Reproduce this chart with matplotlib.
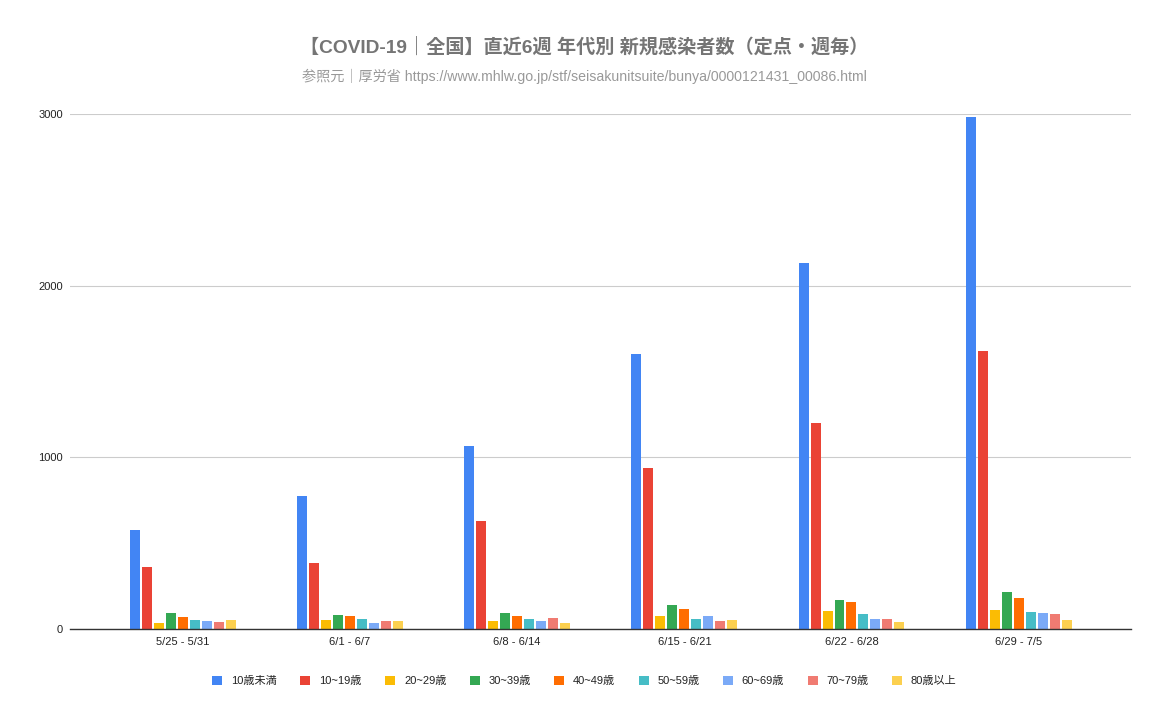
import numpy as np
import matplotlib
matplotlib.use("Agg")
import matplotlib.pyplot as plt

plt.rcParams['font.family'] = ['Liberation Sans', 'Noto Sans CJK JP', 'DejaVu Sans']

# 週ごとのカテゴリ
weeks = ['5/25 - 5/31', '6/1 - 6/7', '6/8 - 6/14', '6/15 - 6/21', '6/22 - 6/28', '6/29 - 7/5']
age_groups = ['10歳未満', '10~19歳', '20~29歳', '30~39歳', '40~49歳',
              '50~59歳', '60~69歳', '70~79歳', '80歳以上']

# 年代別の新規感染者数 (週ごと)
under10 = [578, 775, 1067, 1603, 2134, 2985]
age10s = [361, 385, 630, 939, 1201, 1621]
age20s = [35, 52, 47, 76, 105, 111]
age30s = [93, 82, 93, 140, 169, 216]
age40s = [70, 76, 76, 117, 157, 181]
age50s = [52, 58, 58, 58, 87, 99]
age60s = [47, 35, 47, 76, 58, 93]
age70s = [41, 47, 64, 47, 58, 87]
over80 = [52, 47, 35, 52, 41, 52]

series = [under10, age10s, age20s, age30s, age40s, age50s, age60s, age70s, over80]
colors = ['#4285F4', '#EA4335', '#FBBC04', '#34A853', '#FF6D01',
          '#46BDC6', '#7BAAF7', '#F07B72', '#FCD04F']

fig = plt.figure(figsize=(11.69, 7.24), dpi=100)
ax = fig.add_axes([0.0599, 0.1312, 0.908, 0.7113])

x = np.arange(len(weeks))
pitch = 0.0717
width = 0.0597
n = len(series)
for i, (vals, col, lab) in enumerate(zip(series, colors, age_groups)):
    offset = (i - (n - 1) / 2) * pitch
    ax.bar(x + offset, vals, width=width, color=col, label=lab, zorder=3)

ax.set_xlim(-0.675, 5.675)
ax.set_ylim(0, 3000)
ax.set_yticks([0, 1000, 2000, 3000])
ax.set_xticks(x)
ax.set_xticklabels(weeks)
ax.tick_params(axis='both', length=0, labelsize=8, colors='#222222')
ax.tick_params(axis='x', pad=6)
ax.tick_params(axis='y', pad=5)
ax.grid(axis='y', color='#cccccc', linewidth=0.8, zorder=0)
for s in ['top', 'right', 'left']:
    ax.spines[s].set_visible(False)
ax.spines['bottom'].set_color('#333333')
ax.spines['bottom'].set_linewidth(1.0)
ax.spines['bottom'].set_zorder(4)

fig.text(0.5, 1 - 47 / 724, '【COVID-19｜全国】直近6週 年代別 新規感染者数（定点・週毎）',
         ha='center', va='center', fontsize=13.8, fontweight='bold', color='#757575')
fig.text(0.5, 1 - 76 / 724,
         '参照元｜厚労省 https://www.mhlw.go.jp/stf/seisakunitsuite/bunya/0000121431_00086.html',
         ha='center', va='center', fontsize=10.2, color='#999999')

fig.legend(loc='center', bbox_to_anchor=(0.5, 1 - 681 / 724), ncol=9, frameon=False,
           fontsize=8, handlelength=0.9, handleheight=0.9, columnspacing=2.1,
           handletextpad=0.8, labelcolor='#222222')

fig.savefig('out.png', dpi=100)
